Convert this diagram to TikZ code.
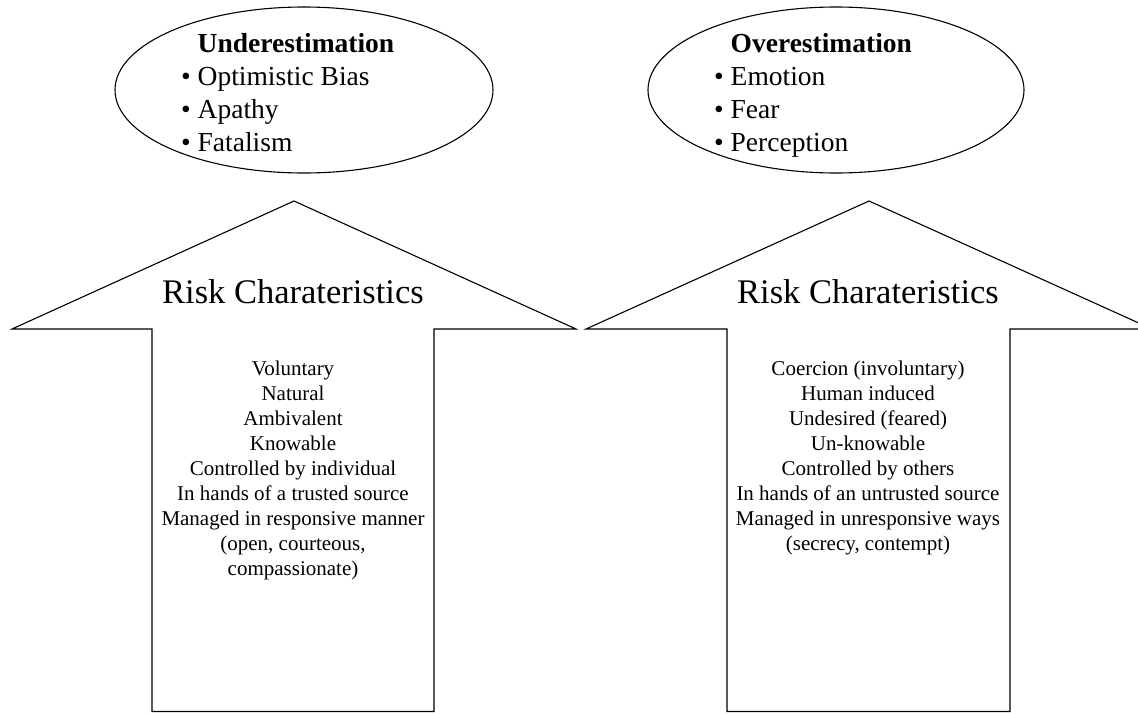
\documentclass[tikz,border=0pt]{standalone}
\usepackage{fontspec}
\setmainfont{Liberation Serif}
\usetikzlibrary{shapes.geometric}
\begin{document}
\begin{tikzpicture}[x=1pt,y=-1pt,
  outline/.style={draw=black,line width=1.1pt,line join=miter},
  bubble/.style={ellipse,draw=black,line width=1.1pt,inner sep=0pt},
  bubbletext/.style={anchor=north west,inner sep=0pt,align=left,
    font=\fontsize{27.5}{33}\selectfont},
  headtext/.style={anchor=base,inner sep=0pt,font=\fontsize{34.5}{41}\selectfont},
  listtext/.style={anchor=north,inner sep=0pt,align=center,
    font=\fontsize{21}{25}\selectfont}]
\useasboundingbox (0,0) rectangle (1138,713);
\clip (0,0) rectangle (1138,713);

% upward block arrows
\draw[outline] (152,711.5) -- (152,329) -- (12,329) -- (294,201) -- (576,329)
  -- (434,329) -- (434,711.5) -- cycle;
\draw[outline] (727,711.5) -- (727,329) -- (586,329) -- (869,201) -- (1152,329)
  -- (1010,329) -- (1010,711.5) -- cycle;

% bubbles above the arrows
\node[bubble,minimum width=378,minimum height=166] (under) at (304,90) {};
\node[bubble,minimum width=376,minimum height=166] (over) at (836,90) {};

\node[bubbletext] (undertext) at (181,33)
  {\phantom{\textbullet\ }\textbf{Underestimation}\\
   \textbullet\ Optimistic Bias\\
   \textbullet\ Apathy\\
   \textbullet\ Fatalism};
\node[bubbletext] (overtext) at (714,33)
  {\phantom{\textbullet\ }\textbf{Overestimation}\\
   \textbullet\ Emotion\\
   \textbullet\ Fear\\
   \textbullet\ Perception};

% arrow headings
\node[headtext] (lefthead) at (293,303) {Risk Charateristics};
\node[headtext] (righthead) at (868,303) {Risk Charateristics};

% characteristics lists
\node[listtext] (leftlist) at (293,360.5)
  {Voluntary\\ Natural\\ Ambivalent\\ Knowable\\ Controlled by individual\\
   In hands of a trusted source\\ Managed in responsive manner\\
   (open, courteous,\\ compassionate)};
\node[listtext] (rightlist) at (868,360.5)
  {Coercion (involuntary)\\ Human induced\\ Undesired (feared)\\ Un-knowable\\
   Controlled by others\\ In hands of an untrusted source\\
   Managed in unresponsive ways\\ (secrecy, contempt)};
\end{tikzpicture}
\end{document}
